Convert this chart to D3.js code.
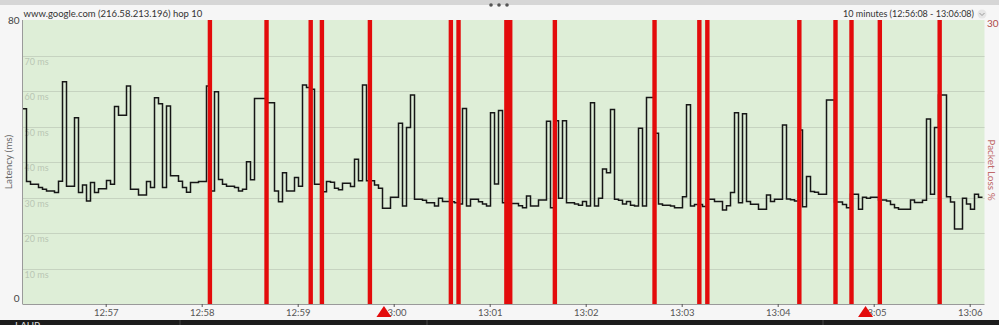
<!DOCTYPE html>
<html>
<head>
<meta charset="utf-8">
<script src="https://cdn.jsdelivr.net/npm/d3@7"></script>
<style>
  html, body { margin: 0; padding: 0; background: #f6f6f6; }
  svg { display: block; font-family: Lato, "Open Sans", sans-serif; }
</style>
</head>
<body>
<div id="chart"></div>
<script>
// chart data
const title = 'www.google.com (216.58.213.196) hop 10';
const rangeLabel = '10 minutes (12:56:08 - 13:06:08)';
const sampleSeconds = 2.5;

// latency samples (ms), one every 2.5 s from 12:56:08
const latencyMs = [
    55, 34.5, 33.7, 33.7, 32.8, 32.3, 31.8, 31.8, 31.4, 34.6,
    62.6, 33.2, 33.2, 52.5, 31.4, 33.5, 29, 34.2, 31.4, 32.5,
    32.5, 34.8, 33.7, 55.6, 53.2, 53.2, 61.4, 32.3, 32.3, 30.7,
    30.7, 34.5, 32.8, 58.1, 56.4, 32.8, 55.8, 36.1, 36.1, 34.6,
    32.8, 31.5, 34.2, 34.2, 34.5, 34.5, 61.4, 31.8, 59.8, 35.1,
    33.7, 33.2, 33.2, 32.8, 31.8, 32.3, 40.1, 35, 57.9, 57.9,
    57.9, 56.7, 56.7, 31.8, 28.8, 37, 31.8, 31.8, 35.6, 33.2,
    61.7, 61, 60.5, 33.7, 33.7, 31.6, 34.5, 34.3, 32.6, 32.2,
    34, 34, 33.1, 40.8, 34.7, 61.7, 34.7, 34.7, 33.5, 32.6,
    27, 27, 30.1, 30.1, 50.9, 27.6, 49.7, 58.9, 29.5, 29.5,
    29.2, 28.5, 28.5, 27.6, 29.8, 28.9, 28.9, 28.8, 28.5, 28.2,
    55.1, 27.6, 29.5, 29.5, 28.8, 28.2, 27.6, 53.9, 33.8, 54.5,
    28.5, 28.3, 28.3, 28.3, 27.7, 27.1, 30.4, 27.6, 27.6, 29.3,
    29.3, 51.5, 27.1, 51.6, 29.8, 51.6, 28.5, 28.5, 28.2, 27.8,
    28.9, 27.6, 56.7, 27.6, 29.8, 38, 37, 54.8, 29.5, 29.2,
    28.2, 28.9, 27.8, 27.6, 49.5, 27.6, 58.2, 58.2, 48.1, 28.2,
    27.8, 27.8, 27.6, 27.1, 27.1, 30.2, 56.1, 27.6, 28, 28,
    27.5, 29.5, 29.5, 28.9, 28.9, 26.5, 27.7, 31.4, 53.9, 28.5,
    53.6, 28.9, 28.1, 28.1, 26.7, 26.7, 30.7, 28.9, 29.5, 29.5,
    50.4, 29.6, 29.4, 29, 49, 27.4, 35.9, 31.7, 31.5, 30.9,
    30.9, 57.5, 57.5, 28.7, 28.7, 28, 27.1, 30.9, 30.9, 26.7,
    30.1, 29.8, 30.1, 30.1, 29.3, 29.3, 29, 28, 27.1, 26.7,
    26.7, 26.7, 29.3, 28.6, 28.6, 29.2, 52.1, 30.9, 49.7, 58.9,
    58.9, 30.2, 28.7, 21.1, 21.1, 29.8, 28.2, 26.7, 30.9, 30.1
];

// packet loss events (seconds after 12:56:08) and loss %
const lossSeconds = [117, 152.4, 180, 187, 217, 267.6, 272.4, 302.3, 304.7, 332.6,
    394.9, 422.9, 427.9, 485.4, 508, 518, 535.7, 573.1];
const lossPercent = [100, 100, 100, 100, 100, 100, 100, 100, 100, 100,
    100, 100, 100, 100, 100, 100, 100, 100];

// red event markers under the time axis (seconds after 12:56:08)
const markerSeconds = [225.9, 526.9];

const gridMs = [10, 20, 30, 40, 50, 60, 70];
const timeTicks = ['12:57', '12:58', '12:59', '13:00', '13:01', '13:02', '13:03', '13:04', '13:05', '13:06'];

const W = 999, H = 325;
const plot = {l: 22.5, r: 984.5, t: 20, b: 304};

const t0 = new Date(2024, 0, 1, 12, 56, 8);
const at = s => new Date(t0.getTime() + s * 1000);
const parseTick = d3.timeParse('%H:%M');

const x = d3.scaleTime()
    .domain([t0, at(600)])
    .range([plot.l, 982.5]);
const y = d3.scaleLinear()
    .domain([0, 80])
    .range([plot.b, plot.t]);
const yLoss = d3.scaleLinear()
    .domain([0, 30])
    .range([plot.b, plot.t])
    .clamp(true);

const svg = d3.select('#chart')
    .append('svg')
    .attr('width', W)
    .attr('height', H);

// window chrome
svg.append('rect').attr('width', W).attr('height', H).attr('fill', '#f6f6f6');
svg.append('rect').attr('width', W).attr('height', 5).attr('fill', '#d6d6d6');
svg.selectAll('.grip')
    .data([-8, 0, 8])
    .enter()
    .append('circle')
    .attr('cx', d => 499 + d)
    .attr('cy', 5)
    .attr('r', 1.8)
    .attr('fill', '#555');

// plot background
svg.append('rect')
    .attr('x', plot.l)
    .attr('y', plot.t)
    .attr('width', plot.r - plot.l)
    .attr('height', plot.b - plot.t)
    .attr('fill', '#deeed7');

// gridlines + inner labels
const grid = svg.append('g').attr('class', 'grid');
grid.selectAll('line')
    .data(gridMs)
    .enter()
    .append('line')
    .attr('x1', plot.l)
    .attr('x2', plot.r)
    .attr('y1', d => Math.round(y(d)) + 0.5)
    .attr('y2', d => Math.round(y(d)) + 0.5)
    .attr('stroke', '#c6d3c0')
    .attr('stroke-width', 1);
grid.selectAll('text')
    .data(gridMs)
    .enter()
    .append('text')
    .attr('x', plot.l + 2)
    .attr('y', d => y(d) + 9)
    .attr('font-size', 9)
    .attr('fill', '#b9c6b4')
    .text(d => d + ' ms');

// latency step line
const points = latencyMs.map((v, i) => ({t: at(i * sampleSeconds), v: v}));
points.push({t: at(latencyMs.length * sampleSeconds), v: latencyMs[latencyMs.length - 1]});

const line = d3.line()
    .x(d => x(d.t))
    .y(d => y(d.v))
    .curve(d3.curveStepAfter);

svg.append('path')
    .datum(points)
    .attr('d', line)
    .attr('fill', 'none')
    .attr('stroke', '#161616')
    .attr('stroke-width', 1.5)
    .attr('stroke-linejoin', 'miter');

// packet loss bars
const barW = x(at(sampleSeconds)) - x(t0);
svg.append('g')
    .selectAll('rect')
    .data(lossSeconds.map((s, i) => ({t: at(s), p: lossPercent[i]})))
    .enter()
    .append('rect')
    .attr('x', d => x(d.t) - barW / 2)
    .attr('y', d => yLoss(d.p))
    .attr('width', barW + 0.4)
    .attr('height', d => plot.b - yLoss(d.p))
    .attr('fill', '#e30b0b');

// axes lines
svg.append('line')
    .attr('x1', plot.l).attr('x2', plot.l)
    .attr('y1', plot.t).attr('y2', plot.b)
    .attr('stroke', '#9a9a9a');
svg.append('line')
    .attr('x1', plot.l).attr('x2', plot.r)
    .attr('y1', plot.b + 0.5).attr('y2', plot.b + 0.5)
    .attr('stroke', '#9a9a9a');

// time axis
const xAxis = d3.axisBottom(x)
    .tickValues(timeTicks.map(s => {
        const d = parseTick(s);
        return new Date(2024, 0, 1, d.getHours(), d.getMinutes(), 0);
    }))
    .tickFormat(d3.timeFormat('%H:%M'))
    .tickSize(3)
    .tickPadding(2);
const gx = svg.append('g')
    .attr('transform', `translate(0,${plot.b})`)
    .call(xAxis);
gx.select('.domain').remove();
gx.selectAll('.tick line').attr('stroke', '#555');
gx.selectAll('.tick text')
    .attr('font-size', 9.5)
    .attr('fill', '#555')
    .attr('font-family', 'Lato, "Open Sans", sans-serif');

// event markers
svg.append('g')
    .selectAll('path')
    .data(markerSeconds)
    .enter()
    .append('path')
    .attr('transform', d => `translate(${x(at(d))},${plot.b + 2})`)
    .attr('d', 'M0,0 L7.5,11 L-7.5,11 Z')
    .attr('fill', '#e30b0b');

// left axis labels
svg.append('text')
    .attr('x', plot.l - 3)
    .attr('y', y(80) + 4)
    .attr('text-anchor', 'end')
    .attr('font-size', 10)
    .attr('fill', '#444')
    .text('80');
svg.append('text')
    .attr('x', plot.l - 3)
    .attr('y', y(0) - 2)
    .attr('text-anchor', 'end')
    .attr('font-size', 10)
    .attr('fill', '#444')
    .text('0');
svg.append('text')
    .attr('transform', `translate(12,${(plot.t + plot.b) / 2}) rotate(-90)`)
    .attr('text-anchor', 'middle')
    .attr('font-size', 10)
    .attr('fill', '#6a6a6a')
    .text('Latency (ms)');

// right axis labels
svg.append('text')
    .attr('x', 987)
    .attr('y', yLoss(30) + 7)
    .attr('font-size', 10)
    .attr('fill', '#b04848')
    .text('30');
svg.append('text')
    .attr('transform', `translate(988,${(plot.t + plot.b) / 2 + 8}) rotate(90)`)
    .attr('text-anchor', 'middle')
    .attr('font-size', 10)
    .attr('fill', '#c06a6a')
    .text('Packet Loss %');

// titles
svg.append('text')
    .attr('x', plot.l + 1)
    .attr('y', 17)
    .attr('font-size', 9.5)
    .attr('fill', '#333')
    .text(title);
svg.append('text')
    .attr('x', 974)
    .attr('y', 17)
    .attr('text-anchor', 'end')
    .attr('font-size', 9)
    .attr('fill', '#333')
    .text(rangeLabel);
svg.append('circle')
    .attr('cx', 982)
    .attr('cy', 14)
    .attr('r', 4.5)
    .attr('fill', '#e6e6e6');
svg.append('path')
    .attr('d', 'M979.5,13 L982,15.5 L984.5,13')
    .attr('fill', 'none')
    .attr('stroke', '#999')
    .attr('stroke-width', 1);

// dark table strip at the bottom
svg.append('rect')
    .attr('y', 320)
    .attr('width', W)
    .attr('height', 5)
    .attr('fill', '#1c1c1c');
svg.selectAll('.divider')
    .data([180, 427, 823])
    .enter()
    .append('line')
    .attr('x1', d => d).attr('x2', d => d)
    .attr('y1', 320).attr('y2', 325)
    .attr('stroke', '#444');
svg.append('text')
    .attr('x', 15)
    .attr('y', 329)
    .attr('font-size', 10)
    .attr('fill', '#ddd')
    .text('LAUP');
</script>
</body>
</html>
